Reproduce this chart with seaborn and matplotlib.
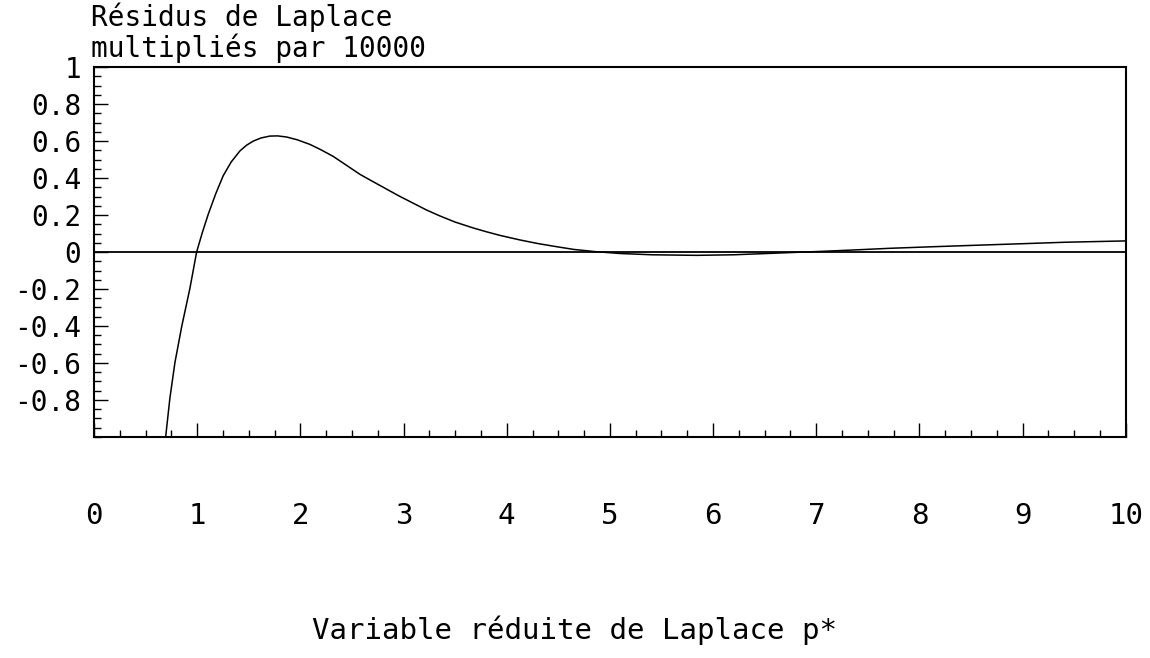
import numpy as np
import pandas as pd
import seaborn as sns
import matplotlib.pyplot as plt
from matplotlib.ticker import MultipleLocator

# Résidus de Laplace (x 10000) en fonction de p*
p_star = [0.68, 0.704, 0.736, 0.785, 0.85, 0.93, 0.995, 1.05, 1.108, 1.18, 1.253,
          1.33, 1.415, 1.48, 1.544, 1.62, 1.705, 1.78, 1.867, 1.97, 2.093, 2.2,
          2.319, 2.45, 2.578, 2.69, 2.804, 2.95, 3.094, 3.22, 3.353, 3.5, 3.676,
          3.8, 3.934, 4.13, 4.3, 4.47, 4.65, 4.86, 5.1, 5.41, 5.84, 6.2, 6.43,
          6.75, 7.07, 7.4, 7.71, 8.1, 8.57, 9.0, 9.42, 10.0]
residus = [-1.08, -0.953, -0.79, -0.597, -0.404, -0.196, 0.0, 0.105, 0.205, 0.315, 0.413,
           0.487, 0.547, 0.578, 0.600, 0.617, 0.627, 0.628, 0.622, 0.607, 0.582, 0.553,
           0.517, 0.468, 0.420, 0.385, 0.350, 0.305, 0.264, 0.228, 0.195, 0.162, 0.130,
           0.110, 0.090, 0.065, 0.046, 0.030, 0.014, 0.002, -0.008, -0.015, -0.018, -0.015, -0.010,
           -0.003, 0.004, 0.012, 0.020, 0.028, 0.037, 0.045, 0.053, 0.060]

x_ticks = [0, 1, 2, 3, 4, 5, 6, 7, 8, 9, 10]
y_ticks = [1, 0.8, 0.6, 0.4, 0.2, 0, -0.2, -0.4, -0.6, -0.8]
y_labels = ['1', '0.8', '0.6', '0.4', '0.2', '0', '-0.2', '-0.4', '-0.6', '-0.8']

df = pd.DataFrame({'p': p_star, 'r': residus})

sns.set_style('white')
plt.rcParams['font.family'] = ['DejaVu Sans Mono', 'DejaVu Sans']
plt.rcParams['text.color'] = 'black'
plt.rcParams['xtick.color'] = 'black'
plt.rcParams['ytick.color'] = 'black'

fig = plt.figure(figsize=(11.5, 6.58), dpi=100)
ax = fig.add_axes([0.0817, 0.336, 0.8973, 0.562])

sns.lineplot(data=df, x='p', y='r', color='black', linewidth=1.1, ax=ax, sort=False)
ax.axhline(0, color='black', linewidth=1.3)

ax.set_xlim(0, 10)
ax.set_ylim(-1, 1)
ax.set_xticks(x_ticks)
ax.set_xticklabels([str(t) for t in x_ticks], fontsize=21)
ax.set_yticks(y_ticks)
ax.set_yticklabels(y_labels, fontsize=20)
ax.xaxis.set_minor_locator(MultipleLocator(0.25))
ax.yaxis.set_minor_locator(MultipleLocator(0.05))

ax.tick_params(axis='x', which='major', direction='in', length=10, width=1, pad=47,
               bottom=True, top=False)
ax.tick_params(axis='x', which='minor', direction='in', length=5, width=1,
               bottom=True, top=False)
ax.tick_params(axis='y', which='major', direction='in', length=10, width=1, pad=9,
               left=True, right=False)
ax.tick_params(axis='y', which='minor', direction='in', length=5, width=1,
               left=True, right=False)

for s in ax.spines.values():
    s.set_color('black')
    s.set_linewidth(1.5)

ax.set_xlabel('')
ax.set_ylabel('')
fig.text(0.5, 0.042, 'Variable réduite de Laplace p*', ha='center', va='center', fontsize=21)
ax.text(-0.003, 1.012, 'Résidus de Laplace\nmultipliés par 10000', transform=ax.transAxes,
        ha='left', va='bottom', fontsize=20, linespacing=1.05)

fig.savefig('out.png', dpi=100)
